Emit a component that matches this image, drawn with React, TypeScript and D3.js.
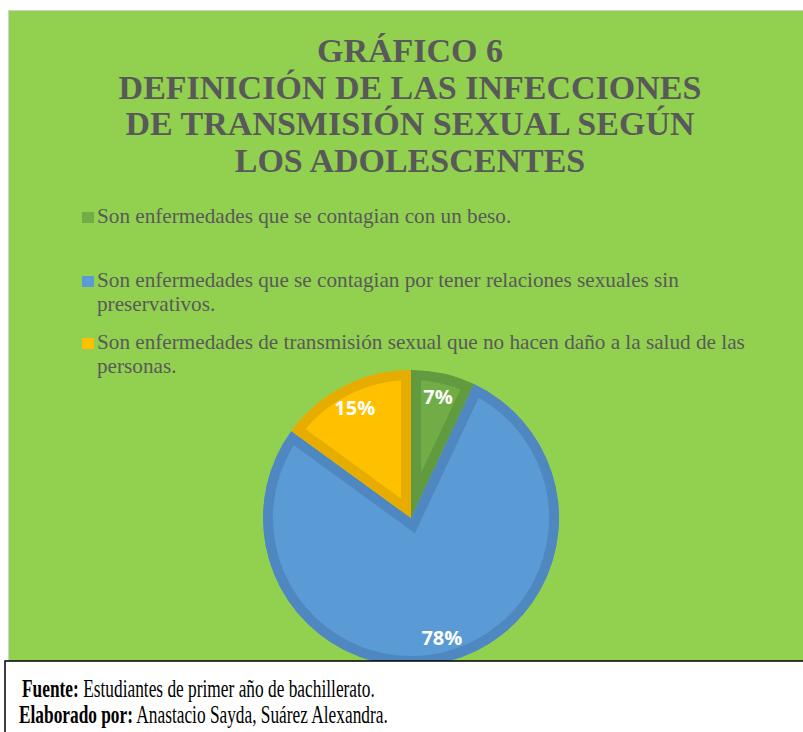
import { useEffect, useRef } from 'react';
import * as d3 from 'd3';

const titleLines = ['GRÁFICO 6', 'DEFINICIÓN DE LAS INFECCIONES', 'DE TRANSMISIÓN SEXUAL SEGÚN', 'LOS ADOLESCENTES'];
const categories = [
  'Son enfermedades que se contagian con un beso.',
  'Son enfermedades que se contagian por tener relaciones sexuales sin preservativos.',
  'Son enfermedades de transmisión sexual que no hacen daño a la salud de las personas.',
];
const legendLines = [
  ['Son enfermedades que se contagian con un beso.'],
  ['Son enfermedades que se contagian por tener relaciones sexuales sin', 'preservativos.'],
  ['Son enfermedades de transmisión sexual que no hacen daño a la salud de las', 'personas.'],
];
const values = [7, 78, 15];
const fills = ['#70AD47', '#5B9BD5', '#FFC000'];
const strokes = ['#629A3F', '#4F87C0', '#E6AC00'];
const footerBold = ['Fuente:', 'Elaborado por:'];
const footerText = [' Estudiantes de primer año de bachillerato.', ' Anastacio Sayda, Suárez Alexandra.'];

const SERIF = '"Liberation Serif", "Times New Roman", serif';

function App() {
  const svgRef = useRef(null);
  const width = 803;
  const height = 732;

  useEffect(() => {
    const svg = d3.select(svgRef.current);
    svg.selectAll('*').remove();

    // background panels
    svg.append('rect').attr('x', 0).attr('y', 0).attr('width', width).attr('height', height).attr('fill', '#fff');
    svg.append('rect').attr('x', 8.5).attr('y', 10.5).attr('width', width).attr('height', 660)
      .attr('fill', '#92D050').attr('stroke', '#d0d0d0').attr('stroke-width', 1);

    // title
    const title = svg.append('text')
      .attr('text-anchor', 'middle')
      .attr('font-family', SERIF)
      .attr('font-weight', 'bold')
      .attr('font-size', 34)
      .attr('fill', '#595959');
    titleLines.forEach((t, i) => {
      title.append('tspan').attr('x', 410).attr('y', 62 + i * 36.5).text(t);
    });

    // legend
    const legendY = [223, 287, 349];
    categories.forEach((c, i) => {
      const g = svg.append('g');
      g.append('rect').attr('x', 82).attr('y', legendY[i] - 11).attr('width', 12).attr('height', 11).attr('fill', fills[i]);
      const txt = g.append('text')
        .attr('font-family', SERIF)
        .attr('font-size', 21.2)
        .attr('fill', '#595959');
      legendLines[i].forEach((line, j) => {
        txt.append('tspan').attr('x', 97).attr('y', legendY[i] + j * 24).text(line);
      });
    });

    // pie
    const cx = 411;
    const cy = 518;
    const radius = 148;
    const pie = d3.pie().sort(null).value(d => d);
    const arcs = pie(values);
    const arc = d3.arc().innerRadius(0).outerRadius(radius);
    const labelArc = d3.arc().innerRadius(124).outerRadius(124);

    const defs = svg.append('defs');
    defs.append('clipPath').attr('id', 'panel-clip')
      .append('rect').attr('x', 9).attr('y', 11).attr('width', width).attr('height', 650);
    arcs.forEach((a, i) => {
      defs.append('clipPath').attr('id', `slice-clip-${i}`)
        .append('path').attr('d', arc(a));
    });

    const pieG = svg.append('g').attr('clip-path', 'url(#panel-clip)')
      .append('g').attr('transform', `translate(${cx},${cy})`);

    // inner border: double-width stroke clipped to the slice itself
    pieG.selectAll('.slice')
      .data(arcs)
      .enter()
      .append('path')
      .attr('class', 'slice')
      .attr('d', arc)
      .attr('fill', (d, i) => fills[i])
      .attr('stroke', (d, i) => strokes[i])
      .attr('stroke-width', 20)
      .attr('stroke-linejoin', 'miter')
      .attr('clip-path', (d, i) => `url(#slice-clip-${i})`);

    pieG.selectAll('.value-label')
      .data(arcs)
      .enter()
      .append('text')
      .attr('class', 'value-label')
      .attr('transform', d => `translate(${labelArc.centroid(d)})`)
      .attr('text-anchor', 'middle')
      .attr('dy', '0.36em')
      .attr('font-family', '"Open Sans", sans-serif')
      .attr('font-weight', 'bold')
      .attr('font-size', 20)
      .attr('fill', '#fff')
      .text(d => `${d.data}%`);

    // footer box
    svg.append('rect').attr('x', 5).attr('y', 661).attr('width', width).attr('height', 80)
      .attr('fill', '#fff').attr('stroke', '#000').attr('stroke-width', 1.5);

    const footerX = [22, 19];
    const footerY = [697, 723];
    const footerW = [353, 369];
    footerBold.forEach((b, i) => {
      const g = svg.append('g');
      const t = g.append('text')
        .attr('x', 0).attr('y', 0)
        .attr('font-family', SERIF)
        .attr('font-size', 25.5)
        .attr('fill', '#000');
      t.append('tspan').attr('font-weight', 'bold').text(b);
      t.append('tspan').text(footerText[i]);
      const natural = t.node().getComputedTextLength();
      const sx = footerW[i] / natural;
      g.attr('transform', `translate(${footerX[i]},${footerY[i]}) scale(${sx},1)`);
    });
  }, []);

  return (
    <svg
      ref={svgRef}
      width={width}
      height={height}
      style={{ position: 'absolute', left: 0, top: 0 }}
    />
  );
}

export default App;
